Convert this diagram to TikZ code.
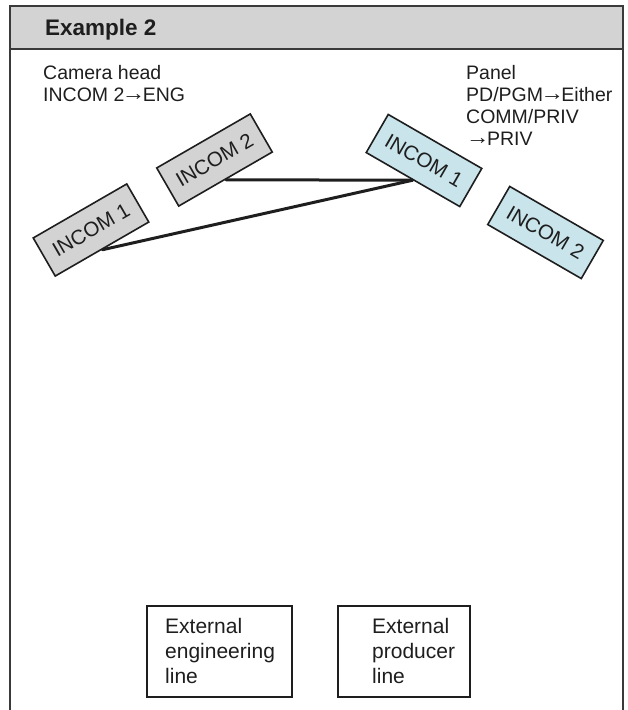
\documentclass[tikz,border=0pt]{standalone}
\usepackage{graphicx}
\usepackage{fontspec}
\setmainfont{Liberation Sans}
\usetikzlibrary{calc}

\definecolor{ink}{HTML}{1E1E1E}
\definecolor{framegray}{HTML}{3A3A3A}
\definecolor{shade}{HTML}{D3D3D3}
\definecolor{iceblue}{HTML}{C9E5EB}

% arrow used inside the labels, set tight to its neighbours
\newcommand{\arw}{\kern-0.13em\raisebox{0.02em}{\scalebox{1.2}[1.1]{→}}\kern-0.13em}

\tikzset{
  frameline/.style={draw=framegray, line width=1.5pt},
  incom/.style={draw=ink, line width=1.6pt, minimum width=108pt,
    minimum height=44pt, inner sep=0pt, text=ink,
    font=\fontsize{20.5}{20.5}\selectfont},
  campanel/.style={incom, fill=shade, rotate=30},
  mainpanel/.style={incom, fill=iceblue, rotate=-30},
  link/.style={draw=ink, line width=3pt, line cap=round},
  notes/.style={inner sep=0pt, anchor=base west, text=ink,
    font=\fontsize{19.5}{22}\selectfont},
  extbox/.style={draw=ink, line width=1.5pt, minimum width=#1,
    minimum height=91pt, inner sep=0pt},
  exttext/.style={inner sep=0pt, anchor=base west, text=ink,
    font=\fontsize{21}{25.3}\selectfont},
}

\begin{document}
\begin{tikzpicture}[x=1pt, y=-1pt]
  \useasboundingbox (0,0) rectangle (627,710);

  % title band and open frame
  \path[frameline, fill=shade] (10,6) rectangle (623,49);
  \draw[frameline] (10,49) -- (10,710);
  \draw[frameline] (623,49) -- (623,710);
  \node[inner sep=0pt, anchor=base west, text=ink,
        font=\fontsize{22.5}{22.5}\selectfont\bfseries] (title) at (45,35) {Example 2};

  % notes
  \node[notes] (camnote) at (43,79)
    {\begin{tabular}[t]{@{}l@{}}Camera head\\INCOM 2\arw ENG\end{tabular}};
  \node[notes] (panelnote) at (466,79)
    {\begin{tabular}[t]{@{}l@{}}Panel\\PD/PGM\arw Either\\COMM/PRIV\\\kern0.13em\arw PRIV\end{tabular}};

  % camera head intercom keys
  \node[campanel] (cam1) at (91,230) {INCOM 1};
  \node[campanel] (cam2) at (214.5,160) {INCOM 2};

  % panel intercom keys
  \node[mainpanel] (pan1) at (424,160.5) {INCOM 1};
  \node[mainpanel] (pan2) at (545.5,232.5) {INCOM 2};

  % connections
  \draw[link] (cam2.south) -- (pan1.south);
  \draw[link] (cam1.south) -- (pan1.south);

  % external lines
  \node[extbox=145pt] (engbox) at (219.5,651.5) {};
  \node[exttext] (engtext) at (165,633)
    {\begin{tabular}[t]{@{}l@{}}External\\engineering\\line\end{tabular}};
  \node[extbox=132pt] (prodbox) at (404,651.5) {};
  \node[exttext] (prodtext) at (372,633)
    {\begin{tabular}[t]{@{}l@{}}External\\producer\\line\end{tabular}};
\end{tikzpicture}
\end{document}
